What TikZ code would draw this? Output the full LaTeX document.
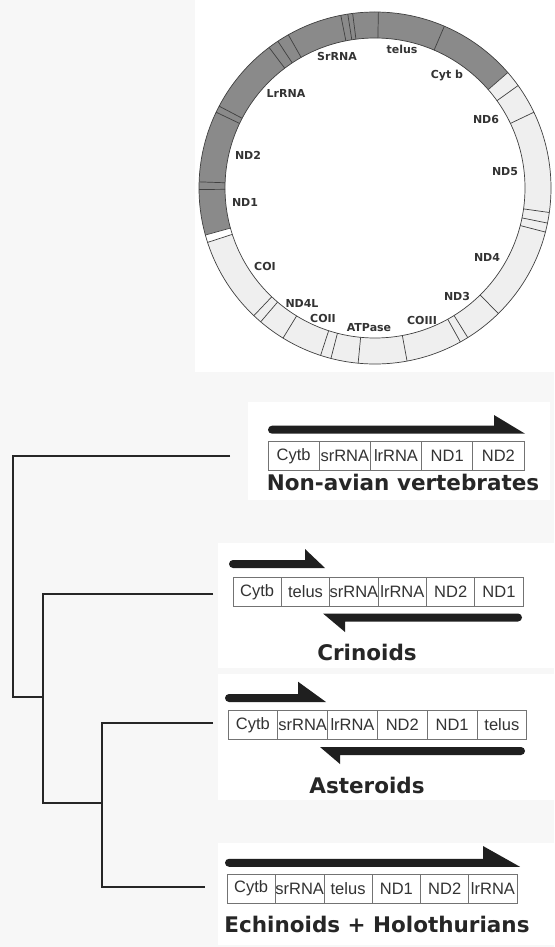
\documentclass[tikz,border=0pt]{standalone}
\usepackage{fontspec}
\setmainfont{Liberation Sans}
\newfontfamily\verd{DejaVu Sans}
\usepackage{tikz}
\usetikzlibrary{positioning}
\definecolor{ringdark}{HTML}{8A8A8A}
\definecolor{ringlight}{HTML}{EFEFEF}
\definecolor{paper}{HTML}{F7F7F7}

\begin{document}
\begin{tikzpicture}[
  x=1pt, y=-1pt,
  gene/.style={draw=black!55, line width=0.8pt, minimum height=29pt,
               minimum width=#1, inner sep=0pt, outer sep=0pt,
               text=black!80, font=\fontsize{16.5}{18}\selectfont},
  gene/.default=50pt,
  ringlbl/.style={anchor=base, inner sep=0pt, text=black!80,
                  font=\verd\bfseries\fontsize{11}{13}\selectfont},
  taxon/.style={anchor=base, inner sep=0pt, text=black!85,
                font=\verd\bfseries\fontsize{21.5}{24}\selectfont},
  ringline/.style={draw=black!75, line width=0.7pt},
  branch/.style={line width=2.7pt, black!85},
  strand/.style={fill=black!88},
  panel/.style={fill=white}
]
\useasboundingbox (0,0) rectangle (554,947);
\fill[paper] (0,0) rectangle (554,947);
% white panels behind the map and the gene orders
\fill[panel] (195,0) rectangle (554,372);
\fill[panel] (248,402) rectangle (550,500);
\fill[panel] (218,543) rectangle (554,668);
\fill[panel] (218,674) rectangle (554,800);
\fill[panel] (218,843) rectangle (554,945);

% mitochondrial genome ring
\begin{scope}[shift={(375,188)}, yscale=-1]
  \fill[ringdark] (41:176) arc[start angle=41, end angle=195.5, radius=176]
    -- (195.5:150) arc[start angle=195.5, end angle=41, radius=150] -- cycle;
  \fill[ringlight] (195.5:176) arc[start angle=195.5, end angle=401, radius=176]
    -- (401:150) arc[start angle=401, end angle=195.5, radius=150] -- cycle;
  \fill[white] (195.5:176) arc[start angle=195.5, end angle=198, radius=176]
    -- (198:150) arc[start angle=198, end angle=195.5, radius=150] -- cycle;
  \draw[ringline] (0,0) circle[radius=176] (0,0) circle[radius=150];
  \foreach \a in {41,66.8,88.9,97.3,98.9,101.2,119.5,123.5,127,152.3,154.5,
                  178,180.5,195.5,198,226.5,229.5,238.5,252,255.5,264.5,
                  280.5,299,301.8,314.5,345.5,348.5,352,385.5,395.6}
    \draw[ringline] (\a:150) -- (\a:176);
\end{scope}

\node[ringlbl] (srrna) at (337,61) {SrRNA};
\node[ringlbl] (telus) at (402,53.3) {telus};
\node[ringlbl] (cytb) at (447,79) {Cyt b};
\node[ringlbl] (lrrna) at (286,97.3) {LrRNA};
\node[ringlbl] (nd6) at (486,123.3) {ND6};
\node[ringlbl] (nd2) at (248,159.3) {ND2};
\node[ringlbl] (nd5) at (505,175) {ND5};
\node[ringlbl] (nd1) at (245,206.7) {ND1};
\node[ringlbl] (nd4) at (487,261.7) {ND4};
\node[ringlbl] (coi) at (265,270) {COI};
\node[ringlbl] (nd3) at (457,300.7) {ND3};
\node[ringlbl] (nd4l) at (302,307.3) {ND4L};
\node[ringlbl] (coii) at (323,322.7) {COII};
\node[ringlbl] (coiii) at (422,324) {COIII};
\node[ringlbl] (atpase) at (369,331) {ATPase};

% gene orders
\node[gene=51.2pt] (vert1) at (293.6,456) {Cytb};
\node[gene=51.2pt, right=0pt of vert1] (vert2) {srRNA};
\node[gene=51.2pt, right=0pt of vert2] (vert3) {lrRNA};
\node[gene=51.2pt, right=0pt of vert3] (vert4) {ND1};
\node[gene=51.2pt, right=0pt of vert4] (vert5) {ND2};
\node[taxon] (vertlbl) at (403,490.7) {Non-avian vertebrates};

\node[gene=48.3pt] (crin1) at (257.2,592) {Cytb};
\node[gene=48.3pt, right=0pt of crin1] (crin2) {telus};
\node[gene=48.3pt, right=0pt of crin2] (crin3) {srRNA};
\node[gene=48.3pt, right=0pt of crin3] (crin4) {lrRNA};
\node[gene=48.3pt, right=0pt of crin4] (crin5) {ND2};
\node[gene=48.3pt, right=0pt of crin5] (crin6) {ND1};
\node[taxon] (crinlbl) at (367,660) {Crinoids};

\node[gene=49.8pt] (aster1) at (252.9,725) {Cytb};
\node[gene=49.8pt, right=0pt of aster1] (aster2) {srRNA};
\node[gene=49.8pt, right=0pt of aster2] (aster3) {lrRNA};
\node[gene=49.8pt, right=0pt of aster3] (aster4) {ND2};
\node[gene=49.8pt, right=0pt of aster4] (aster5) {ND1};
\node[gene=49.8pt, right=0pt of aster5] (aster6) {telus};
\node[taxon] (asterlbl) at (367,793) {Asteroids};

\node[gene=48.3pt] (echi1) at (251.2,888.5) {Cytb};
\node[gene=48.3pt, right=0pt of echi1] (echi2) {srRNA};
\node[gene=48.3pt, right=0pt of echi2] (echi3) {telus};
\node[gene=48.3pt, right=0pt of echi3] (echi4) {ND1};
\node[gene=48.3pt, right=0pt of echi4] (echi5) {ND2};
\node[gene=48.3pt, right=0pt of echi5] (echi6) {lrRNA};
\node[taxon] (echilbl) at (377,932.7) {Echinoids + Holothurians};

% strand arrows
\fill[strand] (272,425.7) -- (494,425.7) -- (494,415) -- (525,433.7)
  -- (272,433.7) arc[start angle=90, end angle=270, radius=4] -- cycle;
\fill[strand] (233,560) -- (305,560) -- (305,549) -- (325,568)
  -- (233,568) arc[start angle=90, end angle=270, radius=4] -- cycle;
\fill[strand] (323,613.5) -- (518,613.5) arc[start angle=270, end angle=450, radius=4]
  -- (345,621.5) -- (345,632) -- cycle;
\fill[strand] (229,694) -- (298,694) -- (298,681.7) -- (326,702)
  -- (229,702) arc[start angle=90, end angle=270, radius=4] -- cycle;
\fill[strand] (320,747) -- (521,747) arc[start angle=270, end angle=450, radius=4]
  -- (340,755) -- (340,764) -- cycle;
\fill[strand] (229,858.8) -- (483,858.8) -- (483,846) -- (520,866.8)
  -- (229,866.8) arc[start angle=90, end angle=270, radius=4] -- cycle;

% tree
\coordinate (tipVert) at (230,456);
\coordinate (tipCrin) at (213,594);
\coordinate (tipAster) at (213,723);
\coordinate (tipEchi) at (205,887);
\coordinate (root) at (13,697);
\coordinate (joinA) at (43,697);
\coordinate (nodeB) at (43,803);
\coordinate (joinB) at (102,803);
\coordinate (nodeC) at (102,887);
\draw[branch] (tipVert) -| (root) -- (joinA);
\draw[branch] (tipCrin) -| (nodeB) -- (joinB);
\draw[branch] (tipAster) -| (nodeC) -- (tipEchi);
\end{tikzpicture}
\end{document}
